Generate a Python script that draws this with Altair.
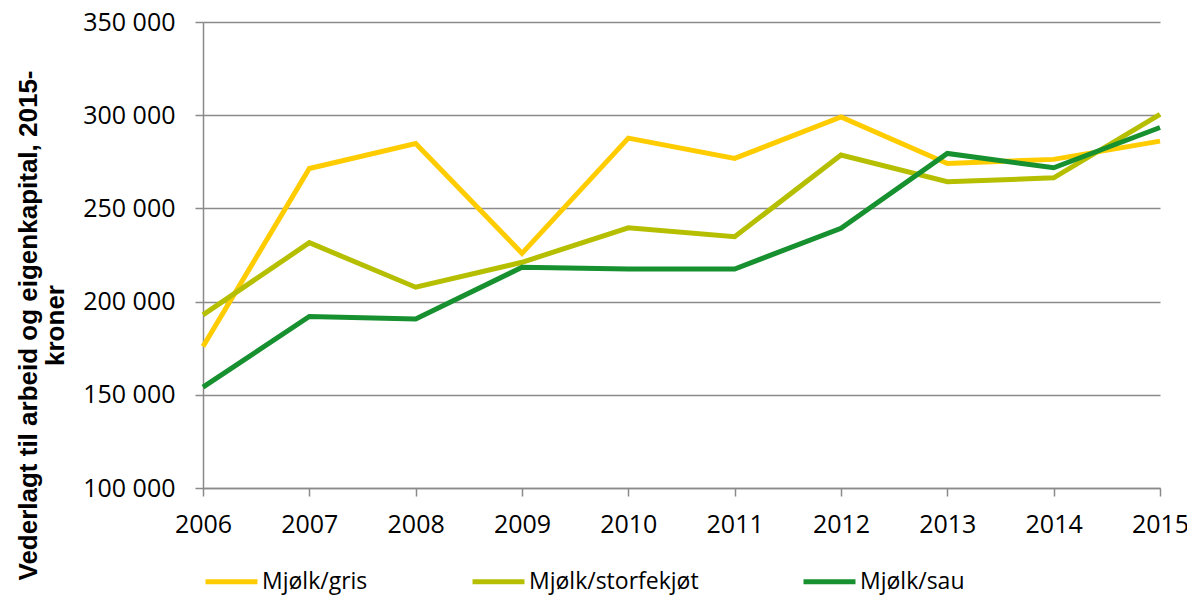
import altair as alt
import pandas as pd

years = [2006, 2007, 2008, 2009, 2010, 2011, 2012, 2013, 2014, 2015]
gris = [175900, 271400, 284800, 225900, 287700, 276800, 299100, 274100, 276300, 286100]
storfekjot = [192900, 231600, 207700, 221100, 239600, 234800, 278600, 264300, 266400, 300400]
sau = [154100, 192000, 190700, 218400, 217500, 217500, 239300, 279500, 271800, 293400]

series_names = ["Mjølk/gris", "Mjølk/storfekjøt", "Mjølk/sau"]
series_colors = ["#FFCC00", "#B5BF00", "#17902F"]
y_ticks = [100000, 150000, 200000, 250000, 300000, 350000]

rows = []
for name, vals in zip(series_names, [gris, storfekjot, sau]):
    for yr, v in zip(years, vals):
        rows.append({"År": yr, "Verdi": v, "Serie": name, "ord": series_names.index(name)})
df = pd.DataFrame(rows)

chart = alt.Chart(df).mark_line(strokeWidth=5).encode(
    x=alt.X("År:Q",
            scale=alt.Scale(domain=[2006, 2015], nice=False, zero=False),
            axis=alt.Axis(values=years, format="d", title=None, grid=False,
                          labelFontSize=25, labelPadding=16, tickSize=8,
                          labelFlush=False)),
    y=alt.Y("Verdi:Q",
            scale=alt.Scale(domain=[100000, 350000], nice=False, zero=False),
            axis=alt.Axis(values=y_ticks,
                          labelExpr="format(datum.value/1000, 'd') + ' 000'",
                          title=["Vederlagt til arbeid og eigenkapital, 2015-", "kroner"],
                          titleFont="Liberation Sans", titleFontWeight="bold",
                          titleFontSize=26, titleLineHeight=27,
                          titleAngle=270, titleBaseline="middle", titleAlign="center",
                          titleX=-175, titleY=303,
                          labelFontSize=25, labelPadding=20, tickSize=8,
                          grid=True)),
    color=alt.Color("Serie:N",
                    scale=alt.Scale(domain=series_names, range=series_colors),
                    legend=alt.Legend(title=None, orient="none", direction="horizontal",
                                      legendX=0, legendY=531,
                                      symbolType="stroke", symbolSize=2700,
                                      symbolStrokeWidth=5, labelFontSize=23,
                                      columnPadding=94, labelOffset=2)),
    detail="Serie:N",
    order="ord:Q",
).properties(
    width=957, height=466,
    autosize=alt.AutoSizeParams(type="none"),
    padding={"left": 195, "top": 14, "right": 27, "bottom": 113},
).configure(
    font="Open Sans",
).configure_view(
    stroke=None
).configure_axis(
    domainColor="#8a8a8a", domainWidth=1.5,
    tickColor="#8a8a8a", tickWidth=1.5,
    gridColor="#8a8a8a", gridWidth=1.5,
    labelColor="#000000", titleColor="#000000",
    labelFont="Open Sans",
).configure_legend(
    labelFont="Open Sans", labelColor="#000000", labelLimit=400
)

chart.save("out.html", embed_options={"renderer": "svg", "actions": False})
